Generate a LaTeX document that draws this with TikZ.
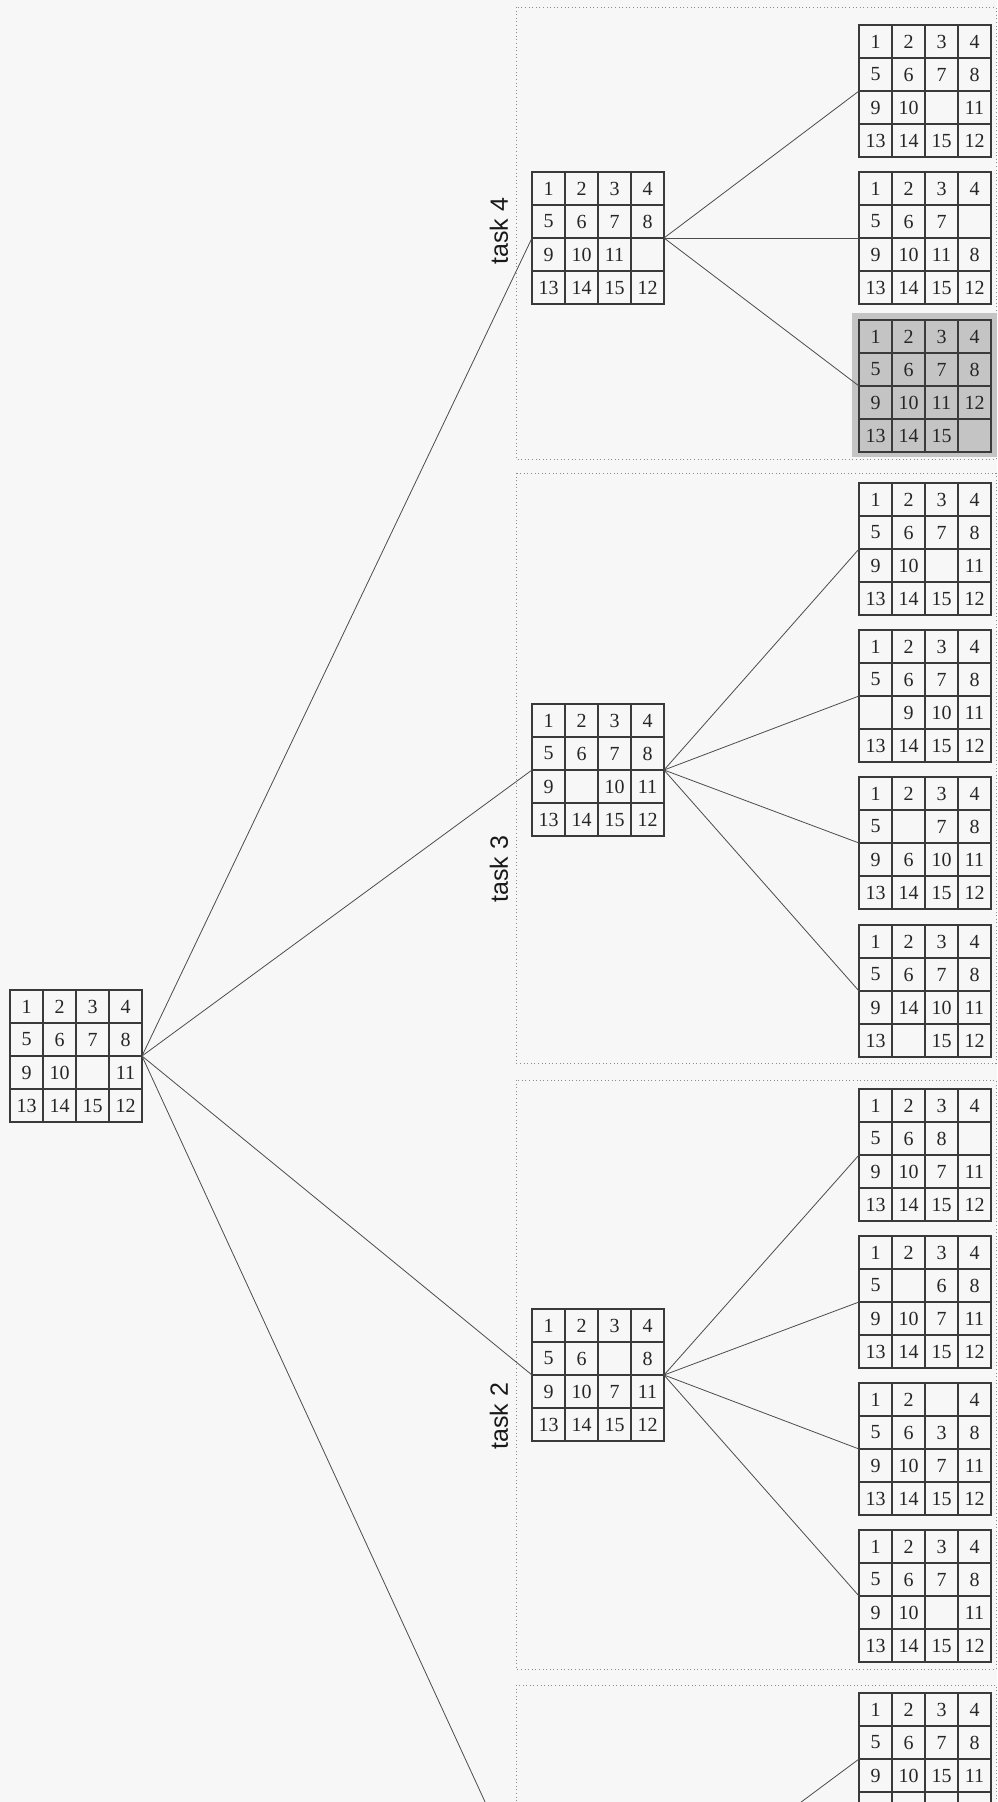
\documentclass[tikz,border=0pt]{standalone}
\usepackage{fontspec}
\setmainfont{Liberation Serif}
\newfontfamily\labelfont{Liberation Sans}
\usetikzlibrary{calc}
\definecolor{bg}{HTML}{F7F7F7}
\definecolor{pzgray}{HTML}{C4C4C4}
\definecolor{pzline}{HTML}{3A3A3A}
\tikzset{
  pzbox/.style={draw=pzline, line width=0.9pt, minimum size=99pt, inner sep=0pt, outer sep=0pt, shape=rectangle},
  pzgrid/.style={draw=pzline, line width=0.9pt},
  pznum/.style={font=\fontsize{15}{15}\selectfont, inner sep=0pt, text=black!85},
  conn/.style={draw=black!70, line width=0.6pt},
  panel/.style={draw=black!45, dotted, line width=0.7pt},
  tasklabel/.style={font=\labelfont\fontsize{18.75}{20}\selectfont, rotate=90, inner sep=0pt, text=black!90}
}
\newcommand\pz[4][]{%
  \node[pzbox,#1] (#2) at (#3) {};
  \foreach \k in {1,2,3} {
    \draw[pzgrid] ($(#2.north west)+(33*\k,0)$) -- ++(0,132);
    \draw[pzgrid] ($(#2.north west)+(0,33*\k)$) -- ++(132,0);
  }
  \foreach \v [count=\i from 0] in {#4} {
    \pgfmathtruncatemacro\cc{mod(\i,4)}
    \pgfmathtruncatemacro\rr{div(\i,4)}
    \node[pznum] at ($(#2.north west)+(16.5+33*\cc,16.5+33*\rr)$) {\v};
  }
}
\begin{document}
\begin{tikzpicture}[x=0.75pt,y=-0.75pt]
\useasboundingbox (0,0) rectangle (997,1802);
\clip (0,0) rectangle (997,1802);
\fill[bg] (0,0) rectangle (997,1802);

% panels
\draw[panel] (516,7) rectangle (996,459);
\draw[panel] (516,473) rectangle (996,1063);
\draw[panel] (516,1080) rectangle (996,1669);
\draw[panel] (516,1685) rectangle (996,1900);

% labels
\node[tasklabel] (l4) at (499,231) {task 4};
\node[tasklabel] (l3) at (499,869) {task 3};
\node[tasklabel] (l2) at (499,1416) {task 2};

% highlighted goal background
\fill[pzgray] (852,313) rectangle (1000,457);

% root
\pz{root}{76,1056}{1,2,3,4,5,6,7,8,9,10,{},11,13,14,15,12}

% task 4
\pz{m4}{598,238}{1,2,3,4,5,6,7,8,9,10,11,{},13,14,15,12}
\pz{a1}{925,91}{1,2,3,4,5,6,7,8,9,10,{},11,13,14,15,12}
\pz{a2}{925,238}{1,2,3,4,5,6,7,{},9,10,11,8,13,14,15,12}
\pz[fill=pzgray]{a3}{925,386}{1,2,3,4,5,6,7,8,9,10,11,12,13,14,15,{}}

% task 3
\pz{m3}{598,770}{1,2,3,4,5,6,7,8,9,{},10,11,13,14,15,12}
\pz{b1}{925,549}{1,2,3,4,5,6,7,8,9,10,{},11,13,14,15,12}
\pz{b2}{925,696}{1,2,3,4,5,6,7,8,{},9,10,11,13,14,15,12}
\pz{b3}{925,843}{1,2,3,4,5,{},7,8,9,6,10,11,13,14,15,12}
\pz{b4}{925,991}{1,2,3,4,5,6,7,8,9,14,10,11,13,{},15,12}

% task 2
\pz{m2}{598,1375}{1,2,3,4,5,6,{},8,9,10,7,11,13,14,15,12}
\pz{c1}{925,1155}{1,2,3,4,5,6,8,{},9,10,7,11,13,14,15,12}
\pz{c2}{925,1302}{1,2,3,4,5,{},6,8,9,10,7,11,13,14,15,12}
\pz{c3}{925,1449}{1,2,{},4,5,6,3,8,9,10,7,11,13,14,15,12}
\pz{c4}{925,1596}{1,2,3,4,5,6,7,8,9,10,{},11,13,14,15,12}

% task 1 (mostly below the page; its last row's numbers are not visible)
\pz{d1}{925,1759}{1,2,3,4,5,6,7,8,9,10,15,11,{},{},{},{}}
\coordinate (m1w) at (532,1904);
\coordinate (m1e) at (664,1904);

% connectors
\draw[conn] (root.east) -- (m4.west);
\draw[conn] (root.east) -- (m3.west);
\draw[conn] (root.east) -- (m2.west);
\draw[conn] (root.east) -- (m1w);
\foreach \t in {a1,a2,a3} \draw[conn] (m4.east) -- (\t.west);
\foreach \t in {b1,b2,b3,b4} \draw[conn] (m3.east) -- (\t.west);
\foreach \t in {c1,c2,c3,c4} \draw[conn] (m2.east) -- (\t.west);
\draw[conn] (m1e) -- (d1.west);
\end{tikzpicture}
\end{document}
